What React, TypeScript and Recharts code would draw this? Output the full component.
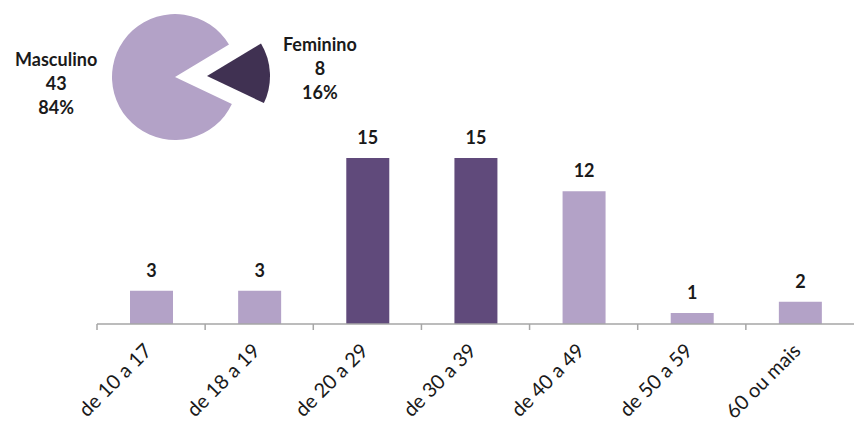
import { Bar, BarChart, Cell, LabelList, Pie, PieChart, XAxis, YAxis } from "recharts";

const ageGroups = ["de 10 a 17", "de 18 a 19", "de 20 a 29", "de 30 a 39", "de 40 a 49", "de 50 a 59", "60 ou mais"];
const ageCounts = [3, 3, 15, 15, 12, 1, 2];
const genderNames = ["Feminino", "Masculino"];
const genderCounts = [8, 43];

const LIGHT = "#b3a2c7";
const DARK_BAR = "#604a7b";
const DARK_PIE = "#403152";
const BAR_COLORS = [LIGHT, LIGHT, DARK_BAR, DARK_BAR, LIGHT, LIGHT, LIGHT];

const W = 854;
const H = 427;
const LEFT = 97;
const BAND = (W - LEFT) / ageGroups.length;
const FONT = "Lato, 'Open Sans', sans-serif";

const barData = ageGroups.map((g, i) => ({ group: g, count: ageCounts[i] }));
const pieData = genderNames.map((n, i) => ({ name: n, value: genderCounts[i] }));

const AgeTick = (props: any) => {
	const { x, y, payload } = props;
	const tx = x + 2;
	const ty = y + 28;
	return (
		<g>
			<line x1={x - BAND / 2} y1={y} x2={x - BAND / 2} y2={y + 6} stroke="#a6a6a6" strokeWidth={1.5} />
			<text
				x={tx}
				y={ty}
				transform={`rotate(-45, ${tx}, ${ty})`}
				textAnchor="end"
				fontSize={20}
				fontFamily={FONT}
				fill="#1a1a1a"
			>
				{payload.value}
			</text>
		</g>
	);
};

const makePieLabel = (show: string, dist: number, dy: number) => (props: any) => {
	const { cx, cy, midAngle, outerRadius, name, value, percent } = props;
	if (name !== show) return null;
	const rad = (-midAngle * Math.PI) / 180;
	const x = cx + (outerRadius + dist) * Math.cos(rad);
	const y = cy + (outerRadius + dist) * Math.sin(rad) + dy;
	return (
		<text x={x} y={y - 18} textAnchor="middle" fontSize={18} fontWeight="bold" fontFamily={FONT} fill="#1a1a1a">
			<tspan x={x} dy={0}>{name}</tspan>
			<tspan x={x} dy={24}>{value}</tspan>
			<tspan x={x} dy={24}>{`${Math.round(percent * 100)}%`}</tspan>
		</text>
	);
};

export default function App() {
	return (
		<div style={{ position: "absolute", left: 0, top: 0, width: W, height: H, background: "#fff" }}>
			<div style={{ position: "absolute", left: 0, top: 0 }}>
				<BarChart width={W} height={H} data={barData} margin={{ top: 158, right: 0, bottom: 0, left: LEFT }}>
					<YAxis hide domain={[0, 15]} />
					<XAxis
						dataKey="group"
						interval={0}
						tickLine={false}
						tickSize={0}
						tickMargin={0}
						axisLine={{ stroke: "#a6a6a6", strokeWidth: 1.5 }}
						tick={<AgeTick />}
						height={103}
					/>
					<Bar dataKey="count" isAnimationActive={false} barSize={43}>
						{barData.map((_, i) => (
							<Cell key={i} fill={BAR_COLORS[i]} />
						))}
						<LabelList dataKey="count" position="top" offset={14} fontSize={18} fontWeight="bold" fontFamily={FONT} fill="#1a1a1a" />
					</Bar>
				</BarChart>
			</div>
			<div style={{ position: "absolute", left: 0, top: 0 }}>
				<PieChart width={380} height={150} margin={{ top: 0, right: 0, bottom: 0, left: 0 }}>
					<Pie
						data={pieData}
						dataKey="value"
						nameKey="name"
						cx={175}
						cy={77}
						outerRadius={63}
						startAngle={31}
						endAngle={-329}
						stroke="none"
						labelLine={false}
						label={makePieLabel("Masculino", 56, 1)}
						isAnimationActive={false}
					>
						<Cell fill="transparent" />
						<Cell fill={LIGHT} />
					</Pie>
					<Pie
						data={pieData}
						dataKey="value"
						nameKey="name"
						cx={207}
						cy={76}
						outerRadius={63}
						startAngle={31}
						endAngle={-329}
						stroke="none"
						labelLine={false}
						label={makePieLabel("Feminino", 50, -2)}
						isAnimationActive={false}
					>
						<Cell fill={DARK_PIE} />
						<Cell fill="transparent" />
					</Pie>
				</PieChart>
			</div>
		</div>
	);
}
